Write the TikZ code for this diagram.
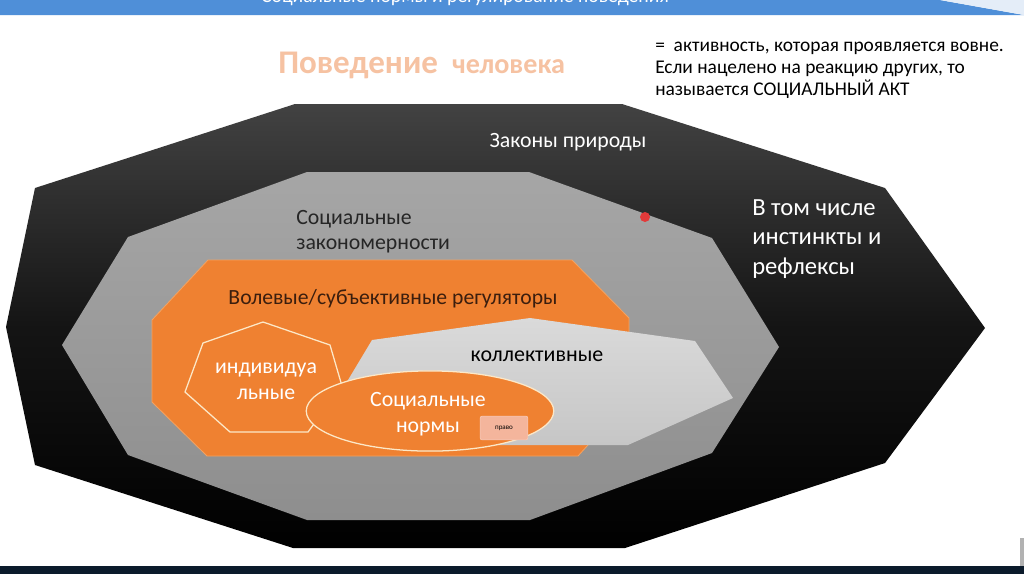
\documentclass[tikz,border=0pt]{standalone}
\usepackage{fontspec}
\setmainfont{Carlito}
\usetikzlibrary{shapes.geometric}

\definecolor{barblue}{HTML}{4F8FD8}
\definecolor{barlight}{HTML}{E4EDF8}
\definecolor{footdark}{HTML}{0B1B2B}
\definecolor{natureTop}{HTML}{424242}
\definecolor{socTop}{HTML}{A6A6A6}
\definecolor{socBottom}{HTML}{8E8E8E}
\definecolor{willOrange}{HTML}{EF8131}
\definecolor{willEdge}{HTML}{F4A260}
\definecolor{collTop}{HTML}{DADADA}
\definecolor{collBottom}{HTML}{C6C6C6}
\definecolor{cream}{HTML}{FCE8C8}
\definecolor{peach}{HTML}{F6C2A2}
\definecolor{pravo}{HTML}{F4B59C}
\definecolor{darktext}{HTML}{262626}
\definecolor{browntext}{HTML}{3B1E0E}
\definecolor{dotred}{HTML}{E23A3A}

\begin{document}
\begin{tikzpicture}[
  x=0.025cm, y=-0.025cm,
  every node/.style={align=center, inner sep=0pt},
  whitelabel/.style={text=white, font=\fontsize{15.5}{18.5}\selectfont},
  darklabel/.style={text=darktext, font=\fontsize{15.5}{18}\selectfont},
  ring/.style={draw=cream, line width=0.9pt, fill=willOrange}
]
\useasboundingbox (0,0) rectangle (1024,574);
\fill[white] (0,0) rectangle (1024,574);

% Slide header and footer
\fill[barblue] (0,0) -- (940,0) -- (1024,15) -- (0,15) -- cycle;
\fill[barlight] (940,0) -- (1024,0) -- (1024,15) -- cycle;
\begin{scope}
  \clip (0,0) rectangle (1024,15);
  \node[text=white, font=\fontsize{14}{17}\selectfont] (slidetitle) at (465,-2) {Социальные нормы и регулирование поведения};
\end{scope}
\fill[footdark] (0,566) rectangle (1024,574);
\fill[gray!60] (1020,538) rectangle (1024,566);

% Heading and definition
\node[text=peach, font=\bfseries\fontsize{23.5}{26}\selectfont, anchor=base west] (behaviour) at (278,73)
  {Поведение\hspace{10pt}\fontsize{20}{22}\selectfont человека};
\node[text=black, font=\fontsize{13.8}{15.6}\selectfont, align=left, anchor=north west] (definition) at (655,42)
  {=\ \ активность, которая проявляется вовне.\\Если нацелено на реакцию других, то\\называется СОЦИАЛЬНЫЙ АКТ};

% Laws of nature
\shade[top color=natureTop, bottom color=black, middle color=black!92]
  (295,104) -- (622,104) -- (885,188) -- (985,328) -- (885,463) -- (625,548)
  -- (293,548) -- (35,465) -- (6,327) -- (35,188) -- cycle;
\node[whitelabel] (nature) at (568,142) {Законы природы};
\node[text=white, font=\fontsize{17.5}{21}\selectfont, align=left, anchor=north west] (instincts) at (752,199)
  {В том числе\\инстинкты и\\рефлексы};

% Social regularities
\shade[top color=socTop, bottom color=socBottom]
  (307,172) -- (529,172) -- (712,238) -- (779,347) -- (712,453) -- (530,520)
  -- (307,520) -- (128,455) -- (62,345) -- (128,237) -- cycle;
\fill[dotred] (645,217) circle (5);
\node[darklabel, align=left, anchor=north west] (socpatterns) at (296,210) {Социальные\\закономерности};

% Volitional regulators
\filldraw[fill=willOrange, draw=willEdge, line width=0.6pt]
  (208,260) -- (572,260) -- (629,318) -- (629,400) -- (578,456) -- (207,456)
  -- (152,402) -- (152,320) -- cycle;
\node[text=browntext, font=\fontsize{15.4}{18}\selectfont] (regulators) at (393,299) {Волевые/субъективные регуляторы};

% Collective
\shade[top color=collTop, bottom color=collBottom]
  (372,340) -- (530,318) -- (695,341) -- (733,398) -- (628,445) -- (420,445)
  -- (345,385) -- cycle;
\node[text=black, font=\fontsize{15.6}{18}\selectfont] (collective) at (537,356) {коллективные};

% Individual
\draw[ring] (263,322) -- (330,345) -- (342,386) -- (308,432) -- (230,432)
  -- (185,392) -- (203,343) -- cycle;
\node[whitelabel] (individual) at (266,381) {индивидуа\\льные};

% Social norms
\node[ring, ellipse, minimum width=176pt, minimum height=57pt] (norms) at (430,411) {};
\node[whitelabel] (normstext) at (428,414) {Социальные\\нормы};
\node[fill=pravo, draw=pravo!70!white, rounded corners=1.5pt, minimum width=34pt, minimum height=17pt,
  text=black, font=\fontsize{5}{6}\selectfont] (law) at (504,428) {право};

\end{tikzpicture}
\end{document}
